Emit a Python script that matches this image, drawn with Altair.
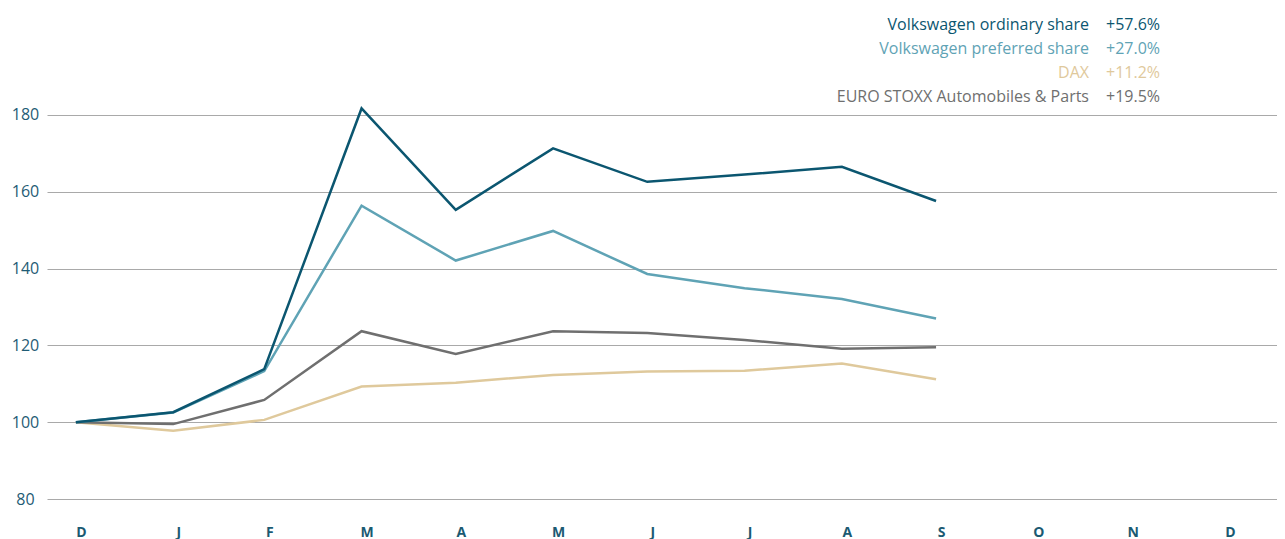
import altair as alt
import pandas as pd

# Month labels and month-end positions (days since 31 Dec of the prior year)
months = ["D", "J", "F", "M", "A", "M", "J", "J", "A", "S", "O", "N", "D"]
month_days = [0, 31, 60, 91, 121, 152, 182, 213, 244, 274, 305, 335, 366]

series = ["Volkswagen ordinary share", "Volkswagen preferred share", "DAX",
          "EURO STOXX Automobiles & Parts"]
changes = ["+57.6%", "+27.0%", "+11.2%", "+19.5%"]
colors = ["#0b5670", "#5fa3b5", "#dfc99c", "#6f6f6f"]

vw_ord = [100, 102.6, 113.8, 181.7, 155.3, 171.3, 162.6, 164.5, 166.5, 157.6]
vw_pref = [100, 102.5, 113.3, 156.4, 142.1, 149.8, 138.6, 134.9, 132.1, 127.0]
dax = [100, 97.8, 100.6, 109.3, 110.3, 112.3, 113.2, 113.4, 115.3, 111.2]
stoxx = [100, 99.5, 105.8, 123.7, 117.8, 123.7, 123.2, 121.4, 119.1, 119.5]

values = [vw_ord, vw_pref, dax, stoxx]
y_ticks = [80, 100, 120, 140, 160, 180]

FONT = "Open Sans"
W, H = 1230, 491

xscale = alt.Scale(domain=[-9.2, 382.6], nice=False, zero=False)
yscale = alt.Scale(domain=[80, 207.86], nice=False, zero=False)

label_expr = "[" + ",".join(f"'{m}'" for m in months) + "][indexof([" + \
    ",".join(str(d) for d in month_days) + "], datum.value)]"

rows = []
for name, vals in zip(series, values):
    for d, v in zip(month_days, vals):
        rows.append({"series": name, "day": d, "value": v})
df = pd.DataFrame(rows)

x_enc = alt.X("day:Q", scale=xscale,
              axis=alt.Axis(values=month_days, labelExpr=label_expr, title=None,
                            grid=False, domain=False, ticks=False, tickSize=0,
                            labelFont=FONT, labelFontSize=14, labelFontWeight="bold",
                            labelColor="#1b5a72", labelPadding=26, labelOffset=5,
                            labelFlush=False))
y_enc = alt.Y("value:Q", scale=yscale,
              axis=alt.Axis(values=y_ticks, title=None, grid=True, gridColor="#a9a9a9",
                            gridWidth=1, domain=False, ticks=False, tickSize=0,
                            labelFont=FONT, labelFontSize=16, labelColor="#1f5c75",
                            labelAlign="center", labelPadding=22, minExtent=39,
                            maxExtent=39, labelFlush=False))

layers = []
# draw order: DAX, EURO STOXX, preferred, ordinary (ordinary on top)
for idx in [2, 3, 1, 0]:
    sub = df[df.series == series[idx]]
    layers.append(
        alt.Chart(sub).mark_line(strokeWidth=2.5, color=colors[idx], clip=False)
        .encode(x=x_enc, y=y_enc)
    )

# legend rows as text
for i, (name, chg, col) in enumerate(zip(series, changes, colors)):
    ldf = pd.DataFrame({"name": [name], "chg": [chg]})
    layers.append(
        alt.Chart(ldf).mark_text(align="right", baseline="middle", font=FONT,
                                 fontSize=16, color=col)
        .encode(x=alt.value(1042), y=alt.value(17 + 24 * i), text="name:N")
    )
    layers.append(
        alt.Chart(ldf).mark_text(align="left", baseline="middle", font=FONT,
                                 fontSize=16, color=col)
        .encode(x=alt.value(1059), y=alt.value(17 + 24 * i), text="chg:N")
    )

chart = alt.layer(*layers).properties(
    width=W, height=H, padding={"left": 0, "top": 0, "right": 0, "bottom": 0}
).configure_view(stroke=None)

chart.save("out.html", embed_options={"renderer": "svg", "actions": False})
